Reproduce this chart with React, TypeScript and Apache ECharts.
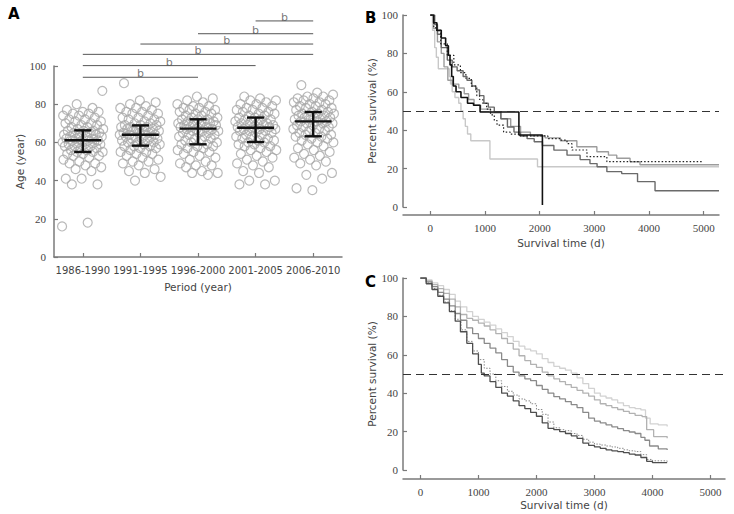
import React, { useEffect, useRef } from "react";
import * as echarts from "echarts";

// ---------- Panel A data ----------
const CATEGORIES = ["1986-1990", "1991-1995", "1996-2000", "2001-2005", "2006-2010"];

const AGES_1986_1990 = [16, 18, 38, 38, 41, 41, 45, 46, 47, 48, 49, 49, 50, 51, 52, 53, 53, 54, 54, 55, 55, 55, 56, 56, 57, 57, 58, 58, 58, 59, 59, 59, 60, 60, 60, 61, 61, 61, 61, 62, 62, 62, 63, 63, 63, 64, 64, 64, 65, 65, 65, 66, 66, 66, 67, 67, 68, 68, 69, 69, 70, 70, 71, 71, 72, 72, 73, 74, 74, 75, 75, 76, 76, 77, 78, 80, 87];
const AGES_1991_1995 = [40, 42, 44, 45, 46, 48, 49, 50, 50, 51, 52, 53, 54, 54, 55, 55, 56, 57, 57, 58, 58, 58, 59, 59, 60, 60, 60, 61, 61, 62, 62, 62, 63, 63, 63, 64, 64, 64, 64, 65, 65, 65, 66, 66, 66, 67, 67, 67, 68, 68, 68, 69, 69, 69, 70, 70, 71, 71, 72, 72, 73, 73, 74, 75, 75, 76, 76, 77, 78, 78, 79, 80, 81, 82, 91];
const AGES_1996_2000 = [43, 44, 44, 45, 47, 48, 48, 49, 50, 51, 52, 53, 54, 55, 55, 56, 57, 57, 58, 58, 59, 59, 60, 60, 61, 61, 62, 62, 63, 63, 64, 64, 65, 65, 65, 66, 66, 66, 67, 67, 67, 68, 68, 68, 69, 69, 69, 70, 70, 70, 71, 71, 71, 72, 72, 72, 73, 73, 74, 74, 75, 75, 76, 76, 77, 77, 78, 78, 79, 79, 80, 81, 82, 83, 84];
const AGES_2001_2005 = [38, 38, 40, 40, 44, 45, 47, 48, 49, 50, 51, 52, 53, 54, 55, 56, 56, 57, 58, 58, 59, 59, 60, 60, 61, 61, 62, 62, 63, 63, 64, 64, 65, 65, 66, 66, 66, 67, 67, 67, 68, 68, 68, 69, 69, 69, 70, 70, 70, 71, 71, 72, 72, 72, 73, 73, 74, 74, 75, 75, 76, 76, 77, 77, 78, 78, 79, 80, 80, 81, 82, 82, 83, 84];
const AGES_2006_2010 = [35, 36, 41, 43, 44, 48, 49, 50, 51, 52, 53, 54, 55, 56, 57, 58, 59, 60, 60, 61, 62, 62, 63, 63, 64, 64, 65, 65, 66, 66, 67, 67, 68, 68, 69, 69, 70, 70, 70, 71, 71, 71, 72, 72, 72, 73, 73, 73, 74, 74, 74, 75, 75, 75, 76, 76, 77, 77, 78, 78, 79, 79, 80, 80, 81, 81, 82, 82, 83, 83, 84, 84, 85, 86, 90];
const AGE_GROUPS = [AGES_1986_1990, AGES_1991_1995, AGES_1996_2000, AGES_2001_2005, AGES_2006_2010];

const MEDIANS = [61.1, 64.0, 67.2, 67.7, 71.0];
const Q1 = [55.0, 58.3, 59.0, 60.2, 63.2];
const Q3 = [66.3, 68.9, 72.1, 73.0, 75.9];

// [from category, to category, level]
const BRACKETS = [
  [0, 2, 94.1],
  [0, 3, 100.2],
  [0, 4, 106.1],
  [1, 4, 111.5],
  [2, 4, 116.9],
  [3, 4, 123.6],
];
const BRACKET_LABEL = "b";

// ---------- Panel B data (Kaplan-Meier, [day, % survival]) ----------
const B_BLACK = [[0, 100], [60, 96], [120, 92], [200, 88], [280, 84], [330, 79], [360, 74], [390, 68], [420, 63], [470, 60], [560, 57], [680, 54], [790, 53], [910, 49.5], [1620, 37.5], [2050, 1]];
const B_DARK = [[0, 100], [80, 95], [130, 90], [200, 83], [310, 76.5], [400, 73], [490, 71], [600, 68], [670, 66], [760, 63], [830, 61], [900, 58], [980, 54], [1060, 52], [1170, 49.6], [1290, 46], [1410, 41.7], [1530, 39], [1650, 37], [1770, 35.6], [1900, 34], [2050, 32], [2260, 29.6], [2500, 27], [2740, 24.7], [2920, 22.6], [3050, 21], [3229, 18.4], [3500, 17.4], [3790, 13.2], [4110, 8.5], [5280, 8.5]];
const B_MID = [[0, 100], [60, 93], [130, 86], [200, 80], [250, 73], [320, 66], [400, 64], [520, 62], [620, 59], [700, 56], [800, 53], [920, 51], [1100, 49], [1290, 46], [1470, 42], [1650, 39], [1830, 37], [2100, 36], [2380, 34.5], [2680, 31.4], [3046, 28.8], [3258, 27], [3410, 25.4], [3653, 23.6], [3835, 22], [5280, 22]];
const B_LIGHT = [[0, 100], [40, 92], [80, 83], [110, 78], [146, 72], [346, 68], [370, 64], [400, 60], [450, 57], [520, 54], [560, 50], [600, 46], [640, 42], [680, 38], [740, 34.5], [1090, 25], [1960, 21], [5280, 21]];
const B_DOTTED = [[0, 100], [60, 94], [100, 92], [190, 85], [310, 79], [430, 74], [550, 70], [650, 67], [750, 63], [850, 58], [900, 56], [960, 54], [1030, 51], [1100, 48], [1170, 45], [1220, 42.6], [1340, 39], [1460, 38], [1640, 37], [2150, 35.6], [2380, 34.8], [2500, 33], [2590, 29.7], [2865, 26.2], [3229, 23.6], [4990, 23.6]];

// ---------- Panel C data ----------
const C_TOP = [[0, 100], [100, 99], [200, 97.5], [300, 96], [400, 94], [500, 91.5], [600, 88], [690, 85], [800, 82.5], [900, 80], [1000, 78.5], [1100, 77], [1200, 75.5], [1300, 73.5], [1400, 71.5], [1500, 69.5], [1600, 67], [1700, 64.5], [1800, 63], [1900, 62], [2000, 60.5], [2100, 58], [2200, 56], [2300, 54], [2400, 53], [2500, 52], [2600, 50.5], [2700, 48], [2800, 45], [2900, 42.5], [3000, 40], [3100, 38.5], [3200, 37.5], [3300, 36.5], [3400, 35], [3500, 33.5], [3600, 32.5], [3700, 32], [3800, 31.3], [3880, 27], [3960, 24], [4100, 23.5], [4253, 22.6]];
const C_SECOND = [[0, 100], [100, 98.5], [200, 96.5], [300, 94.5], [400, 92], [500, 89], [600, 85], [690, 81], [800, 79], [900, 78], [1000, 76.5], [1100, 75], [1200, 73], [1300, 71], [1400, 68.5], [1500, 66], [1600, 63], [1700, 59.5], [1800, 57], [1900, 55], [2000, 53.5], [2100, 51], [2200, 49], [2300, 47.5], [2400, 46], [2500, 44.5], [2600, 43], [2700, 41.5], [2800, 40], [2900, 38.5], [3000, 36.5], [3100, 34.5], [3200, 33.5], [3300, 32.5], [3400, 31.5], [3500, 30.5], [3600, 29.5], [3700, 28.5], [3820, 27.8], [3900, 21], [4020, 17.4], [4253, 16.5]];
const C_THIRD = [[0, 100], [100, 98], [200, 95.5], [300, 92.5], [400, 89], [500, 85.5], [600, 81.5], [690, 78], [800, 74], [900, 71], [1000, 68.5], [1100, 66], [1200, 63.5], [1300, 61], [1400, 57.5], [1500, 54], [1600, 51], [1700, 49], [1800, 47.5], [1900, 46.5], [2000, 44], [2100, 42], [2200, 40], [2300, 38.2], [2400, 37], [2500, 35.6], [2600, 34], [2700, 32.5], [2800, 30], [2900, 27], [3000, 25.5], [3100, 24.5], [3200, 23.5], [3300, 22.5], [3400, 21.5], [3500, 20.5], [3600, 19.8], [3700, 19], [3800, 17], [3870, 15.5], [3950, 12.5], [4100, 11], [4253, 10.4]];
const C_DOTTED = [[0, 100], [100, 97.5], [200, 94.5], [300, 91], [400, 87.5], [500, 83], [600, 78.5], [700, 73], [800, 67], [900, 62], [1000, 57.5], [1100, 53], [1200, 50], [1300, 46.5], [1400, 43.5], [1500, 41], [1600, 39], [1700, 37], [1800, 36], [1900, 34.5], [2000, 31.5], [2100, 29], [2200, 25], [2300, 22], [2400, 21], [2500, 20.5], [2600, 19], [2700, 18], [2800, 16], [2900, 14.5], [3000, 13.5], [3100, 13], [3200, 12.5], [3300, 12], [3400, 11.3], [3500, 10.5], [3600, 10], [3700, 9.6], [3800, 8], [3900, 5.5], [4000, 4.8], [4253, 4.3]];
const C_DARK = [[0, 100], [100, 97], [200, 94], [300, 90.5], [400, 87], [500, 82.5], [600, 77.5], [690, 72], [800, 66], [900, 60.5], [1000, 55], [1050, 50.5], [1100, 49], [1200, 46], [1300, 43], [1400, 40], [1500, 38.5], [1600, 36], [1700, 33.5], [1800, 32], [1900, 30], [2000, 28], [2100, 24.5], [2200, 21.7], [2300, 21], [2400, 20], [2500, 19], [2600, 17.8], [2700, 16.5], [2800, 14], [2900, 12.8], [3000, 12], [3100, 11.3], [3200, 10.5], [3300, 10], [3400, 9.6], [3500, 9], [3600, 8.3], [3700, 7.8], [3800, 6.5], [3900, 4.5], [4000, 3.8], [4253, 3.5]];

const SURV_X_TICKS = [0, 1000, 2000, 3000, 4000, 5000];

const AXIS_COLOR = "#7a7a7a";
const SERIF = '"Liberation Serif", "DejaVu Serif", serif';
const SANS = '"DejaVu Sans", Verdana, sans-serif';

function jitter(i: number, g: number) {
  const f = (i * 0.6180339887 + g * 0.37) % 1;
  return (f - 0.5) * 0.72;
}

export default function App() {
  const ref = useRef<HTMLDivElement>(null);

  useEffect(() => {
    if (!ref.current) return;
    const chart = echarts.init(ref.current, null, { renderer: "svg" });

    const axisLine = { show: true, onZero: false, lineStyle: { color: AXIS_COLOR, width: 1.5 } };
    const axisTick = { show: true, inside: true, length: 4, lineStyle: { color: AXIS_COLOR, width: 1.2 } };
    const nameStyle = { fontFamily: SANS, fontSize: 10.5, color: "#444" };
    const serifLabel = { fontFamily: SERIF, fontSize: 11, color: "#444" };

    const scatterData: number[][] = [];
    AGE_GROUPS.forEach((ages, g) => {
      ages.forEach((a, i) => scatterData.push([g + jitter(i, g), a]));
    });

    const errData = CATEGORIES.map((_, i) => [i, Q1[i], MEDIANS[i], Q3[i]]);
    const bracketLabelData = BRACKETS.map(([a, b, y]) => [(a + b) / 2, y]);

    const survY = (gridIdx: number, gap: number) => ({
      type: "value",
      gridIndex: gridIdx,
      min: 0,
      max: 100,
      interval: 20,
      name: "Percent survival (%)",
      nameLocation: "middle",
      nameGap: gap,
      nameTextStyle: nameStyle,
      axisLine,
      axisTick,
      splitLine: { show: false },
      axisLabel: { ...serifLabel, margin: 5 },
    });

    const survX = (gridIdx: number, min: number, max: number, offset: number, nameGap: number) => ({
      type: "value",
      gridIndex: gridIdx,
      min,
      max,
      offset,
      name: "Survival time (d)",
      nameLocation: "middle",
      nameGap,
      nameTextStyle: nameStyle,
      axisLine,
      axisTick: { ...axisTick, customValues: SURV_X_TICKS },
      splitLine: { show: false },
      axisLabel: { ...serifLabel, margin: 7, customValues: SURV_X_TICKS, formatter: (v: number) => String(v) },
    });

    const km = (data: number[][], xi: number, yi: number, color: string, width: number, type: any = "solid", extra: any = {}) => ({
      type: "line",
      xAxisIndex: xi,
      yAxisIndex: yi,
      data,
      step: "end",
      showSymbol: false,
      symbol: "none",
      lineStyle: { color, width, type },
      silent: true,
      ...extra,
    });

    const dashed50 = {
      markLine: {
        silent: true,
        symbol: "none",
        label: { show: false },
        lineStyle: { color: "#333", width: 1, type: [8, 5] },
        data: [{ yAxis: 50 }],
      },
    };

    const option: any = {
      animation: false,
      backgroundColor: "#ffffff",
      graphic: [
        { type: "text", left: 8, top: 6, style: { text: "A", font: `bold 15px ${SANS}`, fill: "#000" } },
        { type: "text", left: 365, top: 10, style: { text: "B", font: `bold 15px ${SANS}`, fill: "#000" } },
        { type: "text", left: 365, top: 274, style: { text: "C", font: `bold 15px ${SANS}`, fill: "#000" } },
      ],
      grid: [
        { left: 54, top: 66, width: 288, height: 191 },
        { left: 403, top: 15, width: 316, height: 192 },
        { left: 403, top: 278, width: 322, height: 192 },
      ],
      xAxis: [
        {
          type: "category",
          gridIndex: 0,
          data: CATEGORIES,
          boundaryGap: true,
          name: "Period (year)",
          nameLocation: "middle",
          nameGap: 24,
          nameTextStyle: nameStyle,
          axisLine,
          axisTick: { ...axisTick, alignWithLabel: true },
          axisLabel: { fontFamily: SANS, fontSize: 10, color: "#444", interval: 0, margin: 8 },
        },
        { type: "value", gridIndex: 0, min: -0.5, max: 4.5, show: false },
        survX(1, -500, 5280, 8, 22),
        survX(2, -300, 5250, 9, 20),
      ],
      yAxis: [
        {
          type: "value",
          gridIndex: 0,
          min: 0,
          max: 100,
          interval: 20,
          name: "Age (year)",
          nameLocation: "middle",
          nameGap: 27,
          nameTextStyle: nameStyle,
          axisLine,
          axisTick,
          splitLine: { show: false },
          axisLabel: { ...serifLabel, margin: 8 },
        },
        survY(1, 24),
        survY(2, 24),
      ],
      series: [
        {
          type: "scatter",
          xAxisIndex: 1,
          yAxisIndex: 0,
          data: scatterData,
          symbol: "circle",
          symbolSize: 9,
          silent: true,
          itemStyle: { color: "rgba(255,255,255,0)", borderColor: "#a8a8a8", borderWidth: 1.2 },
          z: 2,
        },
        {
          type: "custom",
          xAxisIndex: 1,
          yAxisIndex: 0,
          data: errData,
          encode: { x: 0, y: [1, 2, 3] },
          z: 5,
          silent: true,
          itemStyle: { color: "#111" },
          renderItem: (params: any, api: any) => {
            const x = api.value(0);
            const pm = api.coord([x, api.value(2)]);
            const p1 = api.coord([x, api.value(1)]);
            const p3 = api.coord([x, api.value(3)]);
            const unit = api.size([1, 0])[0];
            const hw = unit * 0.32;
            const cw = unit * 0.15;
            const st = { stroke: "#111", lineWidth: 2.4 };
            return {
              type: "group",
              children: [
                { type: "line", shape: { x1: pm[0] - hw, y1: pm[1], x2: pm[0] + hw, y2: pm[1] }, style: st },
                { type: "line", shape: { x1: p1[0], y1: p1[1], x2: p3[0], y2: p3[1] }, style: st },
                { type: "line", shape: { x1: p1[0] - cw, y1: p1[1], x2: p1[0] + cw, y2: p1[1] }, style: st },
                { type: "line", shape: { x1: p3[0] - cw, y1: p3[1], x2: p3[0] + cw, y2: p3[1] }, style: st },
              ],
            };
          },
        },
        {
          type: "custom",
          xAxisIndex: 1,
          yAxisIndex: 0,
          data: BRACKETS,
          encode: { x: [0, 1], y: 2 },
          clip: false,
          silent: true,
          z: 5,
          itemStyle: { color: "#555" },
          renderItem: (params: any, api: any) => {
            const a = api.coord([api.value(0), api.value(2)]);
            const b = api.coord([api.value(1), api.value(2)]);
            return { type: "line", shape: { x1: a[0], y1: a[1], x2: b[0], y2: b[1] }, style: { stroke: "#555", lineWidth: 1 } };
          },
        },
        {
          type: "scatter",
          xAxisIndex: 1,
          yAxisIndex: 0,
          data: bracketLabelData,
          symbol: "circle",
          symbolSize: 0,
          clip: false,
          silent: true,
          z: 6,
          itemStyle: { color: "rgba(0,0,0,0)" },
          label: {
            show: true,
            position: "top",
            distance: -2,
            formatter: () => BRACKET_LABEL,
            fontFamily: SANS,
            fontSize: 11,
            color: "#555",
          },
        },
        km(B_LIGHT, 2, 1, "#c8c8c8", 1.4, "solid", dashed50),
        km(B_MID, 2, 1, "#9c9c9c", 1.4),
        km(B_DARK, 2, 1, "#6a6a6a", 1.4),
        km(B_DOTTED, 2, 1, "#222", 1.2, [1.5, 2]),
        km(B_BLACK, 2, 1, "#111", 1.6),
        km(C_TOP, 3, 2, "#d2d2d2", 1.3, "solid", dashed50),
        km(C_SECOND, 3, 2, "#b2b2b2", 1.3),
        km(C_THIRD, 3, 2, "#8a8a8a", 1.3),
        km(C_DOTTED, 3, 2, "#8a8a8a", 1, [1.5, 1.5]),
        km(C_DARK, 3, 2, "#4e4e4e", 1.3),
      ],
    };

    chart.setOption(option);
    return () => chart.dispose();
  }, []);

  return (
    <div
      ref={ref}
      style={{ position: "fixed", left: 0, top: 0, width: 734, height: 514, background: "#fff" }}
    />
  );
}
